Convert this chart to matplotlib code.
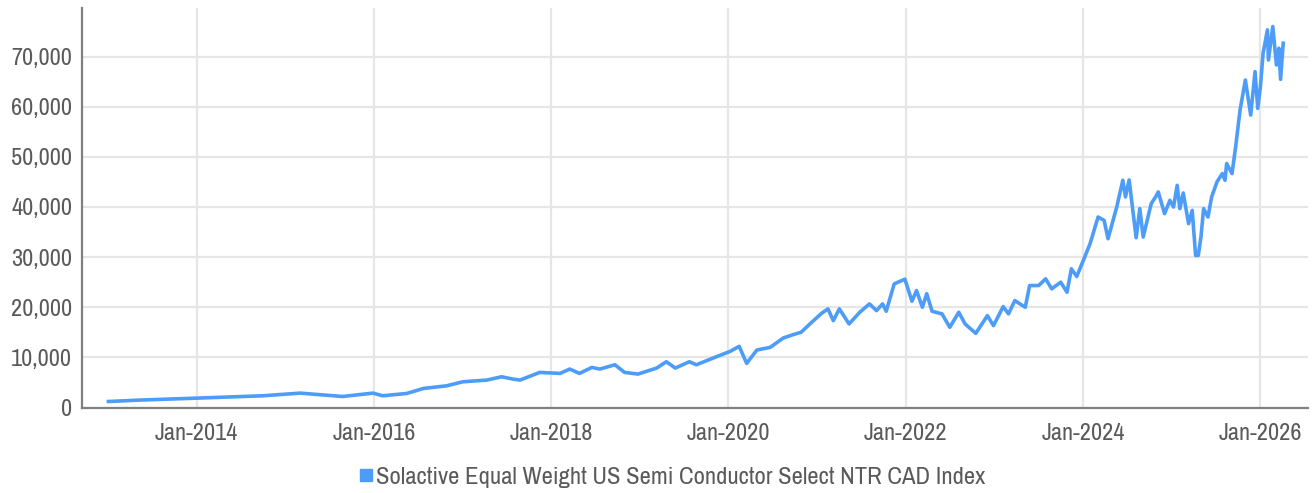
import matplotlib
matplotlib.use("Agg")
from matplotlib import pyplot as plt
from matplotlib import font_manager
from matplotlib.lines import Line2D
import matplotlib.dates as mdates
import matplotlib.ticker as mticker
import pandas as pd

# values
dates = [
    "2013-01-02", "2013-05-05", "2014-01-01", "2014-10-01", "2015-03-03", "2015-08-25",
    "2015-12-28", "2016-02-06", "2016-05-15", "2016-07-23", "2016-10-27", "2017-01-01",
    "2017-04-10", "2017-06-10", "2017-07-27", "2017-08-25", "2017-11-14", "2018-02-06",
    "2018-03-18", "2018-04-27", "2018-06-17", "2018-07-20", "2018-09-20", "2018-10-30",
    "2018-12-24", "2019-03-11", "2019-04-20", "2019-05-27", "2019-07-24", "2019-08-22",
    "2019-10-30", "2020-01-08", "2020-02-14", "2020-03-16", "2020-04-27", "2020-06-21",
    "2020-08-14", "2020-09-23", "2020-10-26", "2020-12-09", "2021-01-19", "2021-02-14",
    "2021-03-08", "2021-04-02", "2021-05-12", "2021-06-25", "2021-08-04", "2021-09-02",
    "2021-09-27", "2021-10-12", "2021-11-14", "2021-12-28", "2022-01-26", "2022-02-14",
    "2022-03-10", "2022-03-28", "2022-04-19", "2022-05-30", "2022-07-01", "2022-08-07",
    "2022-09-02", "2022-10-16", "2022-12-03", "2022-12-28", "2023-02-06", "2023-02-28",
    "2023-03-26", "2023-05-08", "2023-05-26", "2023-07-02", "2023-07-31", "2023-08-25",
    "2023-10-01", "2023-10-27", "2023-11-14", "2023-12-06", "2024-01-01", "2024-01-30",
    "2024-03-03", "2024-03-28", "2024-04-13", "2024-05-19", "2024-06-13", "2024-06-24",
    "2024-07-09", "2024-08-07", "2024-08-22", "2024-09-05", "2024-10-08", "2024-10-26",
    "2024-11-06", "2024-12-02", "2024-12-24", "2025-01-08", "2025-01-23", "2025-02-03",
    "2025-02-17", "2025-03-11", "2025-03-26", "2025-04-09", "2025-04-20", "2025-05-01",
    "2025-05-12", "2025-05-30", "2025-06-14", "2025-07-06", "2025-07-28", "2025-08-08",
    "2025-08-15", "2025-09-06", "2025-09-21", "2025-10-09", "2025-10-31", "2025-11-22",
    "2025-12-10", "2025-12-21", "2026-01-01", "2026-01-12", "2026-01-30", "2026-02-03",
    "2026-02-21", "2026-03-08", "2026-03-18", "2026-03-25", "2026-04-05",
]
index_values = [
    1200, 1470, 1870, 2340, 2870, 2200,
    2870, 2340, 2800, 3800, 4330, 5130,
    5470, 6130, 5670, 5470, 7000, 6800,
    7670, 6800, 8000, 7670, 8530, 7000,
    6670, 7870, 9130, 7870, 9130, 8530,
    9870, 11200, 12200, 8800, 11470, 12000,
    13870, 14530, 15000, 17000, 18800, 19670,
    17330, 19670, 16670, 19000, 20670, 19330,
    20670, 19200, 24670, 25600, 21200, 23330,
    20000, 22700, 19200, 18670, 16000, 19000,
    16670, 14800, 18330, 16330, 20130, 18670,
    21330, 20000, 24330, 24330, 25670, 23670,
    25000, 23000, 27670, 26130, 29200, 32670,
    38000, 37330, 33670, 40000, 45330, 42000,
    45400, 33870, 39670, 34000, 40670, 42000,
    43000, 38670, 41330, 40000, 44330, 39670,
    42800, 36670, 39330, 30330, 30330, 34000,
    39670, 38000, 42000, 45000, 46670, 45330,
    48670, 46670, 52000, 59330, 65330, 58330,
    67000, 59670, 64000, 70670, 75330, 69330,
    76000, 68330, 71670, 65470, 72670,
]
series_name = "Solactive Equal Weight US Semi Conductor Select NTR CAD Index"

line_color = "#4d9df8"
text_color = "#5a5a5a"

# look for a narrow face, the reference uses a condensed light font
names = sorted({f.name for f in font_manager.fontManager.ttflist})
narrow = [n for n in names if "Condensed" in n or "Narrow" in n]
if narrow:
    family = narrow[0]
    scale = 1.0
else:
    family = "Roboto"
    scale = 0.8
plt.rcParams["font.family"] = [family, "DejaVu Sans"]
plt.rcParams["font.weight"] = "light"

x = pd.to_datetime(dates)

fig = plt.figure(figsize=(13.16, 4.93), dpi=100)
ax = fig.add_axes([0.0623, 0.1724, 0.9316, 0.8114])

ax.plot(x, index_values, color=line_color, linewidth=2.6, solid_joinstyle="round")

ax.set_xlim(pd.Timestamp("2012-09-15"), pd.Timestamp("2026-07-16"))
ax.set_ylim(-100, 79700)

ax.xaxis.set_major_locator(mdates.YearLocator(2, month=1, day=1))
ax.xaxis.set_major_formatter(mdates.DateFormatter("%b-%Y"))
ax.yaxis.set_major_locator(mticker.MultipleLocator(10000))
ax.yaxis.set_major_formatter(mticker.FuncFormatter(lambda v, p: f"{int(v):,}"))

ax.grid(True, color="#e6e6e6", linewidth=1.6)
ax.set_axisbelow(True)
ax.tick_params(axis="both", length=0, colors=text_color)
ax.tick_params(axis="x", labelsize=17.5 * scale, pad=11)
ax.tick_params(axis="y", labelsize=17.5 * scale, pad=7)

for side in ["top", "right"]:
    ax.spines[side].set_visible(False)
for side in ["left", "bottom"]:
    ax.spines[side].set_color("#808080")
    ax.spines[side].set_linewidth(1.6)

handle = Line2D([], [], linestyle="none", marker="s", markersize=8,
                color=line_color)
fig.legend([handle], [series_name], loc="center", bbox_to_anchor=(0.51, 0.032),
           frameon=False, fontsize=17.8 * scale, labelcolor=text_color,
           handletextpad=0.05, handlelength=0.7)

plt.savefig("out.png", dpi=100)
